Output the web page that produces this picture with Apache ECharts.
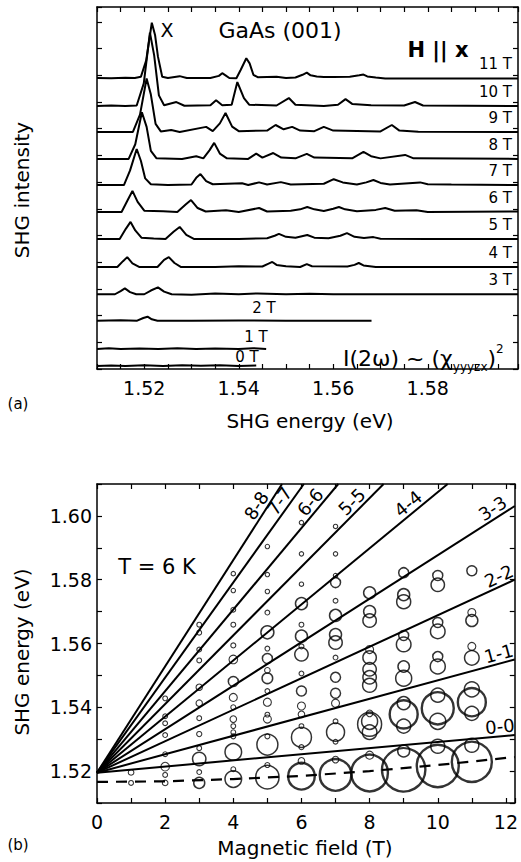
<!DOCTYPE html>
<html>
<head>
<meta charset="utf-8">
<script src="https://cdn.jsdelivr.net/npm/echarts@6/dist/echarts.min.js"></script>
<style>
html, body { margin: 0; padding: 0; background: #fff; }
#chart { width: 521px; height: 862px; }
</style>
</head>
<body>
<div id="chart"></div>
<script>
// ---------- (a) SHG spectra: [energy (eV), intensity above the trace baseline] ----------
const spectrum0T = [[1.5100,0],[1.5130,0.02],[1.5160,0],[1.5200,0.03],[1.5240,0],[1.5280,0.03],[1.5320,0.01],[1.5360,0.03],[1.5400,0],[1.5437,0.02]];
const spectrum1T = [[1.5100,0],[1.5125,0.03],[1.5150,0],[1.5190,0.02],[1.5230,0],[1.5270,0.03],[1.5310,0],[1.5350,0.02],[1.5400,0],[1.5430,0.03],[1.5458,0]];
const spectrum2T = [[1.5100,0],[1.5150,0.02],[1.5185,0],[1.5198,0.1],[1.5207,0.15],[1.5216,0.05],[1.5228,0],[1.5300,0],[1.5400,0.01],[1.5500,0],[1.5600,0],[1.5681,0]];
const spectrum3T = [[1.5100,0],[1.5138,0],[1.5150,0.12],[1.5159,0.22],[1.5170,0.08],[1.5183,0],[1.5200,0],[1.5214,0.14],[1.5229,0.26],[1.5242,0.1],[1.5258,0],[1.5300,-0.02],[1.5350,0.03],[1.5400,0],[1.5440,0.03],[1.5500,0],[1.5550,0.02],[1.5600,0],[1.5700,0],[1.5991,0]];
const spectrum4T = [[1.5100,0],[1.5143,0],[1.5155,0.22],[1.5164,0.37],[1.5175,0.14],[1.5190,0],[1.5228,0],[1.5242,0.27],[1.5252,0.37],[1.5264,0.15],[1.5278,0],[1.5350,0],[1.5400,0.03],[1.5450,0.02],[1.5462,0.12],[1.5471,0.19],[1.5480,0.08],[1.5500,0.03],[1.5530,0],[1.5544,0.11],[1.5555,0.03],[1.5630,0.02],[1.5645,0.08],[1.5654,0.15],[1.5664,0.06],[1.5690,0],[1.5991,0]];
const spectrum5T = [[1.5100,0],[1.5148,0],[1.5161,0.38],[1.5171,0.64],[1.5181,0.32],[1.5194,0.05],[1.5220,0.02],[1.5245,0],[1.5262,0.27],[1.5275,0.45],[1.5289,0.15],[1.5305,0],[1.5400,0],[1.5460,0.03],[1.5476,0.12],[1.5485,0.19],[1.5500,0.08],[1.5520,0.05],[1.5545,0.15],[1.5560,0.05],[1.5590,0.03],[1.5615,0.12],[1.5629,0.22],[1.5645,0.08],[1.5665,0.04],[1.5685,0.07],[1.5700,0.01],[1.5800,0],[1.5991,0]];
const spectrum6T = [[1.5100,0],[1.5152,0],[1.5165,0.45],[1.5175,0.79],[1.5186,0.38],[1.5200,0.05],[1.5240,0.03],[1.5270,0],[1.5287,0.27],[1.5299,0.45],[1.5313,0.15],[1.5330,0.02],[1.5373,0.07],[1.5400,0],[1.5443,0.15],[1.5460,0.02],[1.5510,0.05],[1.5530,0.1],[1.5545,0.19],[1.5560,0.1],[1.5580,0.04],[1.5600,0.12],[1.5612,0.19],[1.5625,0.1],[1.5650,0.03],[1.5690,0.08],[1.5710,0.15],[1.5730,0.05],[1.5776,0.07],[1.5800,0],[1.5991,0.02]];
const spectrum7T = [[1.5100,0],[1.5157,0],[1.5170,0.55],[1.5184,1.35],[1.5193,0.9],[1.5202,0.25],[1.5214,0.03],[1.5250,0],[1.5300,0.02],[1.5310,0.27],[1.5319,0.41],[1.5331,0.15],[1.5345,0.03],[1.5407,0.07],[1.5420,0],[1.5443,0.1],[1.5460,0.02],[1.5489,0.11],[1.5510,0.02],[1.5580,0.05],[1.5601,0.22],[1.5620,0.1],[1.5650,0.02],[1.5670,0.1],[1.5685,0.19],[1.5700,0.08],[1.5720,0.02],[1.5784,0.1],[1.5800,0.03],[1.5850,0.02],[1.5991,0]];
const spectrum8T = [[1.5100,0],[1.5167,0],[1.5181,0.55],[1.5195,1.75],[1.5205,1.2],[1.5214,0.3],[1.5226,0.02],[1.5280,0],[1.5310,0.1],[1.5325,0.02],[1.5338,0.32],[1.5348,0.6],[1.5360,0.2],[1.5375,0.02],[1.5420,0],[1.5437,0.2],[1.5450,0.05],[1.5473,0.22],[1.5490,0.05],[1.5520,0.02],[1.5544,0.19],[1.5560,0.05],[1.5640,0.02],[1.5664,0.26],[1.5680,0.1],[1.5700,0.02],[1.5752,0.15],[1.5770,0.02],[1.5991,0]];
const spectrum9T = [[1.5100,0],[1.5176,0],[1.5191,0.65],[1.5205,2.0],[1.5214,1.4],[1.5224,0.3],[1.5235,0.02],[1.5257,0.07],[1.5275,0],[1.5331,0.19],[1.5345,0.03],[1.5360,0.32],[1.5372,0.71],[1.5386,0.2],[1.5400,0.03],[1.5460,0.05],[1.5478,0.26],[1.5495,0.1],[1.5513,0.19],[1.5530,0.05],[1.5560,0.03],[1.5580,0.19],[1.5600,0.05],[1.5700,0.02],[1.5724,0.26],[1.5740,0.05],[1.5780,0.01],[1.5991,0]];
const spectrum10T = [[1.5100,0],[1.5130,0.02],[1.5160,0],[1.5184,0.02],[1.5199,0.85],[1.5212,2.75],[1.5221,1.9],[1.5231,0.4],[1.5242,0.03],[1.5268,0.15],[1.5285,0.01],[1.5340,0.03],[1.5352,0.22],[1.5365,0.03],[1.5385,0.05],[1.5397,0.9],[1.5411,0.3],[1.5422,0.05],[1.5480,0.02],[1.5506,0.3],[1.5520,0.05],[1.5580,0],[1.5610,0.05],[1.5626,0.26],[1.5640,0.08],[1.5680,0.03],[1.5750,0.02],[1.5773,0.15],[1.5790,0.02],[1.5991,0]];
const spectrum11T = [[1.5100,0],[1.5130,-0.01],[1.5160,0.01],[1.5180,0],[1.5193,0.05],[1.5204,0.65],[1.5216,2.07],[1.5223,1.6],[1.5229,0.8],[1.5238,0.05],[1.5250,0],[1.5275,0.07],[1.5290,0],[1.5340,0],[1.5358,0.08],[1.5365,0.18],[1.5372,0.1],[1.5380,0],[1.5395,-0.01],[1.5404,0.3],[1.5416,0.74],[1.5423,0.55],[1.5431,0.12],[1.5440,0.03],[1.5480,0.05],[1.5500,0],[1.5520,0.02],[1.5535,0.12],[1.5544,0.2],[1.5552,0.1],[1.5565,0.06],[1.5580,0.04],[1.5600,0.04],[1.5635,0.05],[1.5655,0.1],[1.5664,0.13],[1.5672,0.06],[1.5690,0.02],[1.5710,-0.02],[1.5800,-0.02],[1.5991,-0.02]];

const fieldLabels = ['0 T','1 T','2 T','3 T','4 T','5 T','6 T','7 T','8 T','9 T','10 T','11 T'];
const traceOffsets = [0.11, 0.75, 1.81, 2.80, 3.82, 4.87, 5.88, 6.89, 7.87, 8.88, 9.85, 10.90];
const energyTicksA = [1.52, 1.54, 1.56, 1.58];

// ---------- (b) SHG peak positions: [energy (eV), peak intensity] for each field ----------
const peaks1T = [[1.5196,2.8],[1.5163,2.4]];
const peaks2T = [[1.5428,2.4],[1.5372,2.4],[1.5350,2.4],[1.5313,2.4],[1.5253,2.4],[1.5214,4.3],[1.5188,2.4],[1.5163,2.8]];
const peaks3T = [[1.5659,2.4],[1.5634,2.4],[1.5581,2.4],[1.5547,2.4],[1.5463,3.2],[1.5413,3.2],[1.5366,2.4],[1.5316,2.6],[1.5272,2.4],[1.5238,6.7],[1.5197,2.4],[1.5163,5.5]];
const peaks4T = [[1.5819,2.2],[1.5766,2.2],[1.5706,2.4],[1.5659,2.4],[1.5594,2.5],[1.5550,4.3],[1.5481,5],[1.5431,4],[1.5400,2.5],[1.5363,3.3],[1.5341,2.4],[1.5322,2.4],[1.5309,2.5],[1.5260,8.3],[1.5206,2.4],[1.5175,8.3]];
const peaks5T = [[1.5904,2.2],[1.5816,2.2],[1.5763,2.2],[1.5697,2.4],[1.5635,6.5],[1.5584,2.4],[1.5553,5],[1.5516,2.8],[1.5491,5.3],[1.5451,2.4],[1.5416,4],[1.5377,2.4],[1.5363,4],[1.5309,2.5],[1.5283,10.5],[1.5219,2.5],[1.5181,11.7]];
const peaks6T = [[1.5979,2.2],[1.5881,2.2],[1.5786,2.2],[1.5725,6],[1.5659,2.4],[1.5623,6],[1.5591,2.5],[1.5566,6.7],[1.5506,2.4],[1.5451,5],[1.5404,4],[1.5378,3.3],[1.5341,2.4],[1.5306,10],[1.5275,2.5],[1.5232,3.3],[1.5184,13.3]];
const peaks7T = [[1.5967,2.2],[1.5881,2.2],[1.5813,2.2],[1.5791,5],[1.5734,2.4],[1.5688,6],[1.5628,6],[1.5603,6.7],[1.5556,2.4],[1.5494,5],[1.5444,5],[1.5413,4],[1.5356,2.4],[1.5322,9],[1.5292,2.4],[1.5236,3.3],[1.5188,15.8]];
const peaks8T = [[1.5759,6],[1.5700,6],[1.5672,6.7],[1.5581,4],[1.5556,6.7],[1.5519,6.7],[1.5494,6.7],[1.5469,7],[1.5381,3.3],[1.5356,8],[1.5347,12],[1.5322,7.3],[1.5250,4],[1.5194,18.3]];
const peaks9T = [[1.5822,5],[1.5753,6],[1.5731,7],[1.5625,5],[1.5597,7.3],[1.5528,5.7],[1.5491,8],[1.5413,6.5],[1.5378,14],[1.5341,7],[1.5263,6],[1.5204,21.7]];
const peaks10T = [[1.5813,5],[1.5784,6.7],[1.5666,5],[1.5638,7.3],[1.5559,5],[1.5528,7.5],[1.5438,7],[1.5397,16],[1.5356,8],[1.5278,7],[1.5216,21]];
const peaks11T = [[1.5828,5],[1.5697,4],[1.5672,6],[1.5591,4],[1.5555,7.3],[1.5456,7.5],[1.5416,14],[1.5381,7],[1.5281,7],[1.5229,20]];

// Landau-level transitions: common origin and end point of each line [field (T), energy (eV)]
const fanNames = ['0-0','1-1','2-2','3-3','4-4','5-5','6-6','7-7','8-8'];
const fanOrigin = [0, 1.5195];
const fanEnds = [[12.26,1.5313],[12.26,1.5550],[12.26,1.5800],[12.26,1.6031],[10.29,1.61],[8.41,1.61],[7.08,1.61],[6.07,1.61],[5.43,1.61]];
// exciton line (dashed)
const excitonLine = [[0,1.5166],[2,1.5168],[4,1.5175],[6,1.5185],[8,1.5200],[10,1.5219],[12.26,1.5244]];

const FONT = '"DejaVu Sans", "Liberation Sans", Arial, sans-serif';
const spectra = [spectrum0T, spectrum1T, spectrum2T, spectrum3T, spectrum4T, spectrum5T, spectrum6T, spectrum7T, spectrum8T, spectrum9T, spectrum10T, spectrum11T];
const peakSets = [peaks1T, peaks2T, peaks3T, peaks4T, peaks5T, peaks6T, peaks7T, peaks8T, peaks9T, peaks10T, peaks11T];

const chart = echarts.init(document.getElementById('chart'), null, { renderer: 'svg', width: 521, height: 862 });

function boxAxis(base, extra) {
  return Object.assign({
    type: 'value',
    axisLine: { show: true, onZero: false, lineStyle: { color: '#000', width: 1.5 } },
    axisTick: { show: true, inside: true, length: 5, lineStyle: { color: '#000', width: 1.2 } },
    axisLabel: { show: false },
    splitLine: { show: false }
  }, base, extra || {});
}

const series = [];
// (a) spectra stacked by offset
spectra.forEach((s, i) => {
  series.push({
    type: 'line', xAxisIndex: 0, yAxisIndex: 0, showSymbol: false, symbol: 'none', silent: true,
    lineStyle: { color: '#000', width: 2 },
    data: s.map(p => [p[0], p[1] + traceOffsets[i]])
  });
});
// (b) Landau fan
fanEnds.forEach((end, i) => {
  series.push({
    type: 'line', xAxisIndex: 2, yAxisIndex: 2, showSymbol: false, symbol: 'none', silent: true,
    lineStyle: { color: '#000', width: 2 }, z: 3,
    data: [fanOrigin, end]
  });
});
series.push({
  type: 'line', xAxisIndex: 2, yAxisIndex: 2, showSymbol: false, symbol: 'none', silent: true,
  lineStyle: { color: '#000', width: 2.2, type: [11, 8] }, z: 4,
  data: excitonLine
});
// (b) peaks as open circles, size ∝ intensity
const circleData = [];
peakSets.forEach((set, k) => {
  set.forEach(p => {
    const w = p[1] >= 13 ? 2.4 : (p[1] >= 5 ? 1.5 : 1.1);
    circleData.push({ value: [k + 1, p[0], p[1]], itemStyle: { borderWidth: w } });
  });
});
series.push({
  type: 'scatter', xAxisIndex: 2, yAxisIndex: 2, silent: true, z: 2,
  symbol: 'circle',
  symbolSize: v => v[2] * 2,
  itemStyle: { color: 'rgba(255,255,255,0)', borderColor: '#000' },
  data: circleData
});

chart.setOption({
  animation: false,
  backgroundColor: '#fff',
  textStyle: { fontFamily: FONT, color: '#000' },
  grid: [
    { left: 97, top: 7, width: 423, height: 362 },
    { left: 97, top: 484, width: 423, height: 319 }
  ],
  xAxis: [
    boxAxis({ gridIndex: 0, position: 'bottom', min: 1.51, max: 1.5991, interval: 0.005 }, {
      axisLabel: { show: true, color: '#000', fontSize: 19, fontFamily: FONT, margin: 9,
        formatter: v => energyTicksA.some(t => Math.abs(t - v) < 1e-6) ? v.toFixed(2) : '' }
    }),
    boxAxis({ gridIndex: 0, position: 'top', min: 1.51, max: 1.5991, interval: 0.005 }),
    boxAxis({ gridIndex: 1, position: 'bottom', min: 0, max: 12.26, interval: 1 }, {
      axisLabel: { show: true, color: '#000', fontSize: 19, fontFamily: FONT, margin: 9,
        formatter: v => (Math.abs(v - Math.round(v)) < 1e-6 && Math.round(v) % 2 === 0) ? String(Math.round(v)) : '' }
    }),
    boxAxis({ gridIndex: 1, position: 'top', min: 0, max: 12.26, interval: 1 })
  ],
  yAxis: [
    boxAxis({ gridIndex: 0, position: 'left', min: 0, max: 13.56, interval: 1 }),
    boxAxis({ gridIndex: 0, position: 'right', min: 0, max: 13.56, interval: 1 }),
    boxAxis({ gridIndex: 1, position: 'left', min: 1.51, max: 1.61, interval: 0.01 }, {
      axisLabel: { show: true, color: '#000', fontSize: 19, fontFamily: FONT, margin: 5,
        formatter: v => (Math.round(v * 100) % 2 === 0) ? v.toFixed(2) : '' }
    }),
    boxAxis({ gridIndex: 1, position: 'right', min: 1.51, max: 1.61, interval: 0.01 })
  ],
  series: series
});

// ---------- text ----------
const g = [];
const txt = (x, y, text, opt) => g.push({
  type: 'text', x: x, y: y, rotation: (opt && opt.rot) || 0, silent: true, z: 10,
  style: Object.assign({ text: text, fill: '#000', font: '20px ' + FONT, align: 'center', verticalAlign: 'middle' }, (opt && opt.style) || {})
});

txt(22, 190, 'SHG intensity', { rot: Math.PI / 2, style: { font: '20px ' + FONT } });
txt(310, 421, 'SHG energy (eV)', { style: { font: '20px ' + FONT } });
txt(18, 404, '(a)', { style: { font: '15px ' + FONT } });
txt(22, 652, 'SHG energy (eV)', { rot: Math.PI / 2, style: { font: '20px ' + FONT } });
txt(305, 848, 'Magnetic field (T)', { style: { font: '20px ' + FONT } });
txt(18, 845, '(b)', { style: { font: '15px ' + FONT } });

txt(167, 30, 'X', { style: { font: '19px ' + FONT } });
txt(280, 30, 'GaAs (001)', { style: { font: '22px ' + FONT } });
txt(438, 50, 'H || x', { style: { font: 'bold 21px ' + FONT } });
txt(157, 567, 'T = 6 K', { style: { font: '21px ' + FONT } });

// I(2ω) ~ (χ_yyyzx)^2
g.push({
  type: 'text', x: 343, y: 343, silent: true, z: 10,
  style: {
    text: '{m|I(2ω) ~ (χ}{s|yyyzx}{m|)}{p|2}',
    align: 'left', verticalAlign: 'top', fill: '#000',
    rich: {
      m: { fontFamily: FONT, fontSize: 22, lineHeight: 30, verticalAlign: 'middle' },
      s: { fontFamily: FONT, fontSize: 12, lineHeight: 30, verticalAlign: 'bottom' },
      p: { fontFamily: FONT, fontSize: 12, lineHeight: 30, verticalAlign: 'top' }
    }
  }
});

// field labels on the spectra
const px0 = (x, y) => chart.convertToPixel({ gridIndex: 0 }, [x, y]);
fieldLabels.forEach((lab, i) => {
  const base = px0(1.55, traceOffsets[i])[1];
  if (i >= 3) {
    g.push({ type: 'text', x: 512, y: base - 14, silent: true, z: 10,
      style: { text: lab, font: '15px ' + FONT, fill: '#000', align: 'right', verticalAlign: 'middle' } });
  }
});
const lowLabelX = [247, 256, 264];
const lowLabelY = [357, 337, 308];
[0, 1, 2].forEach(i => {
  g.push({ type: 'text', x: lowLabelX[i], y: lowLabelY[i], silent: true, z: 10,
    style: { text: fieldLabels[i], font: '15px ' + FONT, fill: '#000', align: 'center', verticalAlign: 'middle' } });
});

// labels on the Landau fan, placed just above each line near its end
const back = [14, 14, 13, 20, 43, 35, 32, 28, 32];
fanEnds.forEach((end, i) => {
  const a = chart.convertToPixel({ gridIndex: 1 }, fanOrigin);
  const b = chart.convertToPixel({ gridIndex: 1 }, end);
  const dx = a[0] - b[0], dy = a[1] - b[1];
  const L = Math.hypot(dx, dy);
  const ux = dx / L, uy = dy / L;
  const nx = -uy, ny = ux;
  const off = 10;
  const cx = b[0] + ux * back[i] + (nx > 0 ? -nx : nx) * off;
  const cy = b[1] + uy * back[i] + (ny > 0 ? -ny : ny) * off;
  const ang = Math.atan2(-(b[1] - a[1]), b[0] - a[0]);
  g.push({ type: 'text', x: cx, y: cy, rotation: ang, silent: true, z: 10,
    style: { text: fanNames[i], font: '18px ' + FONT, fill: '#000', align: 'center', verticalAlign: 'middle' } });
});

chart.setOption({ graphic: g });
</script>
</body>
</html>
